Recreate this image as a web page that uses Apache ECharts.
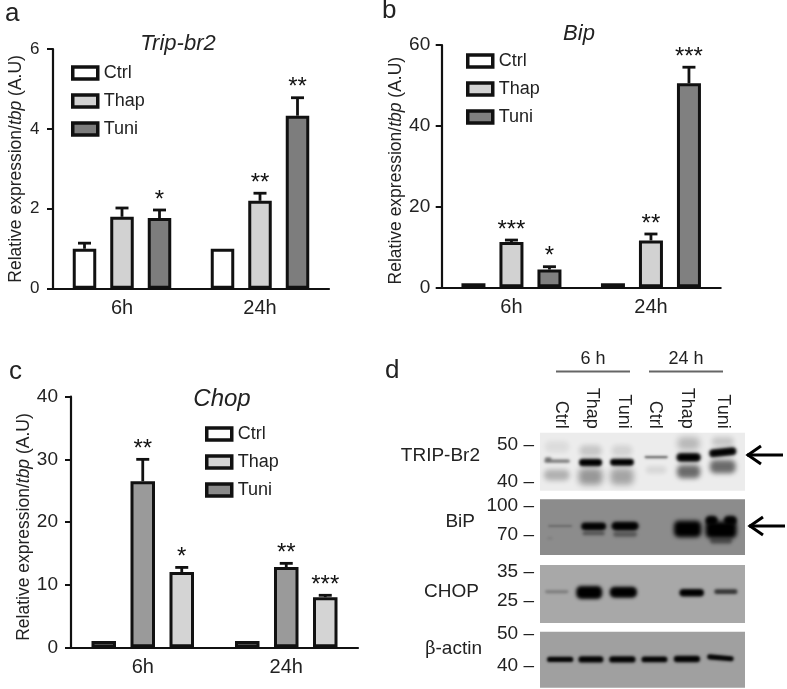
<!DOCTYPE html>
<html>
<head>
<meta charset="utf-8">
<title>Trip-br2, Bip, Chop</title>
<script src="https://cdn.jsdelivr.net/npm/echarts@6/dist/echarts.min.js"></script>
<style>
  html, body { margin: 0; padding: 0; background: #fff; }
  #chart { width: 787px; height: 689px; filter: blur(0.6px); }
</style>
</head>
<body>
<div id="chart"></div>
<script>
var FONT = '"Liberation Sans", Arial, sans-serif';
var INK = '#222';

var timePoints = ['6h', '24h'];
var treatments = ['Ctrl', 'Thap', 'Tuni'];

// panel a, Trip-br2
var tripMean = [[1, 1], [1.8, 2.2], [1.77, 4.33]];
var tripTop = [[1.14, 1], [2.02, 2.39], [1.97, 4.78]];
var tripStars = [['', ''], ['', '**'], ['*', '**']];
var tripTicks = 2;

// panel b, Bip
var bipMean = [[1, 1], [11.2, 11.6], [4.4, 50.5]];
var bipTop = [[1.1, 1.1], [11.7, 13.2], [5.1, 54.5]];
var bipStars = [['', ''], ['***', '**'], ['*', '***']];
var bipTicks = 20;

// panel c, Chop
var chopMean = [[1, 1], [26.5, 12.8], [12, 8]];
var chopTop = [[1, 1], [30, 13.4], [12.75, 8.3]];
var chopStars = [['', ''], ['**', '**'], ['*', '***']];
var chopTicks = 10;

// panel d, blot bands: lane position, kDa, darkness, lane width, kDa spread, tilt
var laneNames = ['Ctrl', 'Thap', 'Tuni', 'Ctrl', 'Thap', 'Tuni'];
var laneTicks = [0.61, 1.51, 2.46, 3.37, 4.29, 5.36];
var tripBands = [
  [0.49, 41.8, 0.25, 0.75, 3], [0.5, 49.5, 0.07, 0.7, 3], [0.5, 45.6, 0.5, 0.75, 0.9], [0.24, 46.2, 0.45, 0.2, 0.9],
  [1.48, 41.4, 0.36, 0.7, 4.5], [1.48, 48.4, 0.16, 0.65, 3], [1.48, 45.2, 1, 0.68, 2],
  [2.4, 41.4, 0.3, 0.68, 4.5], [2.4, 48.4, 0.11, 0.6, 3], [2.4, 45.3, 1, 0.7, 1.9],
  [3.4, 43.2, 0.09, 0.6, 2], [3.4, 46.7, 0.6, 0.68, 0.6],
  [4.35, 42.7, 0.55, 0.68, 3.6], [4.35, 50.4, 0.22, 0.65, 3.5], [4.35, 46.6, 1, 0.72, 2.4],
  [5.35, 44.1, 0.55, 0.75, 3.6], [5.35, 50.9, 0.16, 0.65, 2.5], [5.35, 48, 1, 0.8, 2.2, 6]
];
var bipBands = [
  [0.59, 79.3, 0.28, 0.7, 2], [0.29, 66.6, 0.1, 0.15, 2.5],
  [1.57, 71.7, 0.4, 0.65, 4], [1.57, 79, 1, 0.73, 8],
  [2.49, 70.7, 0.4, 0.7, 5], [2.49, 79.3, 1, 0.8, 9],
  [4.32, 76.2, 1, 0.8, 17],
  [5.3, 64, 0.45, 0.65, 6], [5.3, 75.3, 1, 0.91, 17.4], [5.02, 85, 1, 0.37, 10], [5.57, 85, 1, 0.39, 10]
];
var chopBands = [
  [0.49, 28.1, 0.28, 0.68, 1], [1.44, 27.8, 1, 0.76, 4.5], [2.44, 27.9, 1, 0.8, 3.8],
  [4.44, 27.7, 1, 0.72, 2.6], [5.44, 28.1, 0.7, 0.68, 1.6]
];
var actinBands = [
  [0.59, 42.1, 1, 0.77, 1.6], [1.49, 42.1, 1, 0.73, 2], [2.41, 42.1, 1, 0.77, 2],
  [3.35, 42.1, 1, 0.76, 1.8], [4.3, 42.2, 1, 0.77, 2], [5.28, 42.6, 1, 0.78, 1.6, -5]
];
var tripMarkers = [50, 40];
var bipMarkers = [100, 70];
var chopMarkers = [35, 25];
var actinMarkers = [50, 40];

var charts = echarts.init(document.getElementById('chart'));

var barPanels = [
  { title: 'Trip-br2', titleX: 178, titleY: 33, titleSize: 22, mean: tripMean, top: tripTop, stars: tripStars, ticks: tripTicks, max: 6,
    grid: { left: 53, top: 49, width: 276, height: 239.7 }, barWidth: 23.5, step: 37.5, tickSize: 17, tickGap: 13.5, nameGap: 28, namePad: 0,
    colors: ['#fff', '#d2d2d2', '#7d7d7d'], legendColors: ['#fff', '#d2d2d2', '#7d7d7d'], legend: { left: 71, top: 64 } },
  { title: 'Bip', titleX: 579, titleY: 23, titleSize: 22, mean: bipMean, top: bipTop, stars: bipStars, ticks: bipTicks, max: 60,
    grid: { left: 441.7, top: 45, width: 279, height: 242.3 }, barWidth: 24, step: 38, tickSize: 19, tickGap: 11.5, nameGap: 37, namePad: 9,
    colors: ['#fff', '#d2d2d2', '#808080'], legendColors: ['#fff', '#d2d2d2', '#808080'], legend: { left: 466, top: 52 } },
  { title: 'Chop', titleX: 222, titleY: 387, titleSize: 24, mean: chopMean, top: chopTop, stars: chopStars, ticks: chopTicks, max: 40,
    grid: { left: 71, top: 396.7, width: 287, height: 250.6 }, barWidth: 24.5, step: 39, tickSize: 19, tickGap: 13, nameGap: 38, namePad: 10,
    colors: ['#fff', '#9a9a9a', '#d4d4d4'], legendColors: ['#fff', '#d4d4d4', '#8a8a8a'], legend: { left: 205, top: 425 } }
];

var blotPanels = [
  { bands: tripBands, markers: tripMarkers, min: 37.5, max: 53.35, top: 432.7, height: 58, bg: '#ececec' },
  { bands: bipBands, markers: bipMarkers, min: 49.3, max: 107, top: 499.3, height: 55.7, bg: '#8c8c8c' },
  { bands: chopBands, markers: chopMarkers, min: 17.3, max: 37.3, top: 565, height: 58, bg: '#a8a8a8' },
  { bands: actinBands, markers: actinMarkers, min: 33.3, max: 50.7, top: 631.7, height: 56, bg: '#a0a0a0' }
];

var grids = [], xAxes = [], yAxes = [], series = [], legends = [], titles = [];

barPanels.forEach(function (p, i) {
  grids.push(p.grid);
  xAxes.push({
    type: 'category', gridIndex: i, data: timePoints,
    axisTick: { show: false },
    axisLine: { lineStyle: { color: '#111', width: 2.2 } },
    axisLabel: { color: INK, fontSize: 20, fontFamily: FONT, margin: 10 }
  });
  yAxes.push({
    type: 'value', gridIndex: i, min: 0, max: p.max, interval: p.ticks,
    splitLine: { show: false },
    axisLine: { show: true, lineStyle: { color: '#111', width: 2.2 } },
    axisTick: { show: true, length: 6, lineStyle: { color: '#111', width: 2 } },
    axisLabel: { color: INK, fontSize: p.tickSize, fontFamily: FONT, margin: p.tickGap },
    name: '{n|Relative expression/}{i|tbp}{n| (A.U)}',
    nameLocation: 'middle', nameGap: p.nameGap,
    nameTextStyle: {
      padding: [0, p.namePad, 0, 0],
      rich: {
        n: { fontSize: 17.5, fontFamily: FONT, color: INK },
        i: { fontSize: 17.5, fontFamily: FONT, color: INK, fontStyle: 'italic' }
      }
    }
  });
  titles.push({
    text: p.title, left: p.titleX, top: p.titleY, textAlign: 'center', padding: 0,
    textStyle: { fontSize: p.titleSize, fontStyle: 'italic', fontWeight: 'normal', fontFamily: FONT, color: INK }
  });
  legends.push({
    orient: 'vertical', left: p.legend.left, top: p.legend.top, padding: 0,
    icon: 'rect', itemWidth: 25, itemHeight: 12, itemGap: 10, selectedMode: false,
    textStyle: { fontSize: 18, fontFamily: FONT, color: INK, padding: [0, 0, 0, 1] },
    data: treatments.map(function (name, j) {
      return { name: name, itemStyle: { color: p.legendColors[j], borderColor: '#111', borderWidth: 3.5 } };
    })
  });
  treatments.forEach(function (name, j) {
    series.push({
      name: name, type: 'bar', xAxisIndex: i, yAxisIndex: i, data: p.mean[j], animation: false,
      barWidth: p.barWidth, barGap: ((p.step - p.barWidth) / p.barWidth * 100) + '%',
      itemStyle: { color: p.colors[j], borderColor: '#111', borderWidth: 3 }
    });
    series.push({
      type: 'custom', xAxisIndex: i, yAxisIndex: i, animation: false, silent: true, clip: false,
      encode: { x: 0, y: 1 },
      data: p.top[j].map(function (v, k) { return [k, v, p.mean[j][k]]; }),
      renderItem: function (params, api) {
        var k = api.value(0);
        var x = api.coord([k, 0])[0] + (j - 1) * p.step;
        var yTop = api.coord([k, api.value(1)])[1];
        var yBase = api.coord([k, api.value(2)])[1];
        var children = [];
        if (yBase - yTop > 0.5) {
          children.push({ type: 'line', shape: { x1: x, y1: yBase, x2: x, y2: yTop }, style: { stroke: '#111', lineWidth: 2.8 } });
          children.push({ type: 'line', shape: { x1: x - 6.5, y1: yTop, x2: x + 6.5, y2: yTop }, style: { stroke: '#111', lineWidth: 2.8 } });
        }
        if (p.stars[j][k]) {
          children.push({
            type: 'text',
            style: { text: p.stars[j][k], x: x, y: yTop - 10, textAlign: 'center', textVerticalAlign: 'middle', fill: '#111', font: '24px ' + FONT }
          });
        }
        return { type: 'group', children: children };
      }
    });
  });
});

var SHADOW_SHIFT = 2000;

blotPanels.forEach(function (b, n) {
  var i = n + barPanels.length;
  grids.push({ left: 540, top: b.top, width: 205, height: b.height, show: true, backgroundColor: b.bg, borderWidth: 0 });
  xAxes.push({
    type: 'value', gridIndex: i, min: 0, max: 6, position: 'top',
    splitLine: { show: false }, axisLine: { show: false }, axisTick: { show: false },
    axisLabel: n === 0 ? {
      show: true, customValues: laneTicks, rotate: 90, margin: 4,
      color: INK, fontSize: 18, fontFamily: FONT,
      formatter: function (v) { return laneNames[laneTicks.indexOf(v)]; }
    } : { show: false }
  });
  yAxes.push({
    type: 'value', gridIndex: i, min: b.min, max: b.max, offset: 6,
    splitLine: { show: false }, axisLine: { show: false }, axisTick: { show: false },
    // the marker dash is part of the label, custom ticks did not draw here
    axisLabel: { customValues: b.markers, color: INK, fontSize: 19, fontFamily: FONT, margin: 0, formatter: '{value} –' }
  });
  series.push({
    type: 'custom', xAxisIndex: i, yAxisIndex: i, animation: false, silent: true, clip: false,
    encode: { x: 0, y: 1 },
    data: b.bands,
    renderItem: function (params, api) {
      var c = api.coord([api.value(0), api.value(1)]);
      var size = api.size([api.value(3), api.value(4)]);
      var dark = api.value(2);
      var tilt = b.bands[params.dataIndex][5] || 0;
      // only the soft shadow is seen, the shape itself sits off the canvas
      return {
        type: 'rect',
        x: c[0] - SHADOW_SHIFT, y: c[1], rotation: tilt * Math.PI / 180,
        shape: { x: -size[0] / 2, y: -size[1] / 2, width: size[0], height: size[1], r: Math.min(size[1] / 2, size[0] / 2, 5) },
        style: {
          fill: '#000',
          shadowColor: 'rgba(0,0,0,' + dark + ')',
          shadowOffsetX: SHADOW_SHIFT,
          shadowBlur: 2 + Math.min(size[1] * 0.35, 8) * (1 - 0.6 * dark)
        }
      };
    }
  });
});

function label(text, x, y, size, align) {
  return { type: 'text', x: x, y: y, style: { text: text, font: size + 'px ' + FONT, fill: INK, textAlign: align || 'left', textVerticalAlign: 'middle' } };
}
function arrow(x, y) {
  return {
    type: 'group', x: x, y: y,
    children: [
      { type: 'line', shape: { x1: 0, y1: 0, x2: 36, y2: 0 }, style: { stroke: '#000', lineWidth: 3 } },
      { type: 'polyline', shape: { points: [[14, -9], [1, 0], [14, 9]] }, style: { stroke: '#000', lineWidth: 3, fill: null } }
    ]
  };
}

var proteinLabels = [
  label('TRIP-Br2', 480, 456, 19, 'right'),
  label('BiP', 475, 522, 19, 'right'),
  label('CHOP', 479, 592, 19, 'right'),
  { type: 'text', x: 482, y: 649, style: { rich: { g: { fontFamily: '"DejaVu Serif", serif', fontSize: 18, fill: INK }, t: { fontFamily: FONT, fontSize: 19, fill: INK } }, text: '{g|β}{t|-actin}', textAlign: 'right', textVerticalAlign: 'middle' } }
];

charts.setOption({
  backgroundColor: '#fff',
  animation: false,
  title: titles,
  legend: legends,
  grid: grids,
  xAxis: xAxes,
  yAxis: yAxes,
  series: series,
  graphic: [
    label('a', 5, 14, 26), label('b', 382, 11, 26), label('c', 9, 372, 26), label('d', 385, 371, 26),
    label('6 h', 593, 359, 18, 'center'), label('24 h', 686, 359, 18, 'center'),
    { type: 'line', shape: { x1: 556, y1: 371.5, x2: 630, y2: 371.5 }, style: { stroke: '#666', lineWidth: 2 } },
    { type: 'line', shape: { x1: 649, y1: 371.5, x2: 723, y2: 371.5 }, style: { stroke: '#666', lineWidth: 2 } },
    arrow(747, 455), arrow(749, 526)
  ].concat(proteinLabels)
});

window.addEventListener('resize', function () {
  charts.resize();
});
</script>
</body>
</html>
